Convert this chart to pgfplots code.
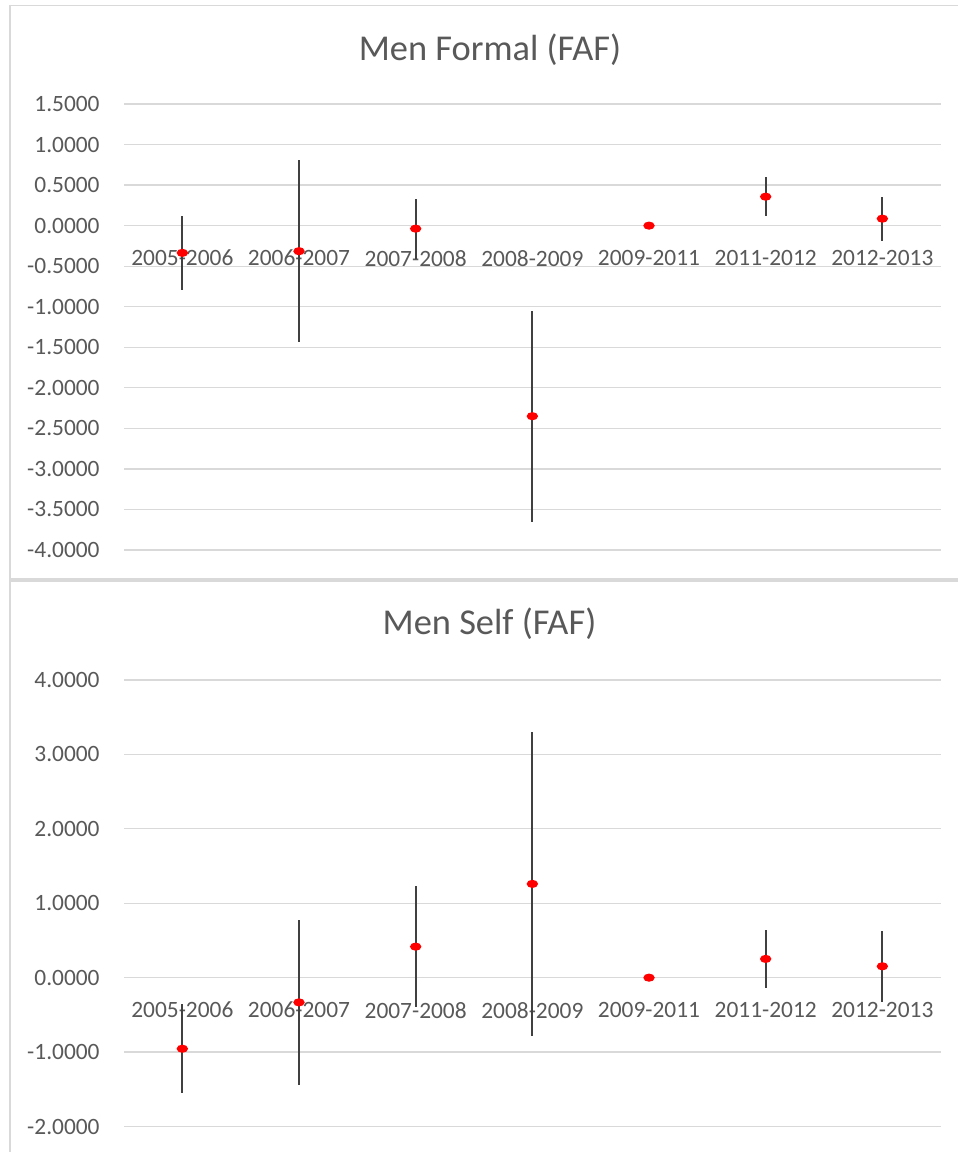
\documentclass[border=0pt]{standalone}
\usepackage{pgfplots}
\usepackage{pgfplotstable}
\pgfplotsset{compat=1.18}
\usepackage{fontspec}
\setmainfont{Carlito}
\definecolor{txt}{HTML}{595959}
\definecolor{gridc}{HTML}{D9D9D9}
\definecolor{barc}{HTML}{404040}
\pgfplotstableread{
x y e
0 -0.336 0.455
1 -0.315 1.12
2 -0.037 0.37
3 -2.350 1.30
4 0.000 0
5 0.357 0.24
6 0.086 0.27
}\formal
\pgfplotstableread{
x y e
0 -0.955 0.595
1 -0.332 1.11
2 0.417 0.81
3 1.260 2.045
4 0.000 0
5 0.252 0.39
6 0.153 0.475
}\self
\pgfplotsset{
  faf/.style={
    scale only axis, width=408.35pt,
    xmin=-0.5, xmax=6.5,
    axis x line=middle, axis y line=left,
    axis line style={draw=none},
    hide obscured x ticks=false, hide obscured y ticks=false,
    major tick length=0pt,
    xtick={0,1,2,3,4,5,6},
    xticklabels={2005-2006,2006-2007,2007-2008,2008-2009,2009-2011,2011-2012,2012-2013},
    ymajorgrids, grid style={gridc, line width=0.65pt},
    tick label style={font=\fontsize{11.7}{13}\selectfont, text=txt},
    xticklabel style={anchor=north, inner sep=0pt, yshift=-12pt},
    yticklabel style={anchor=east, inner sep=0pt, xshift=-12pt},
    /pgf/number format/fixed, /pgf/number format/fixed zerofill,
    /pgf/number format/precision=4, /pgf/number format/assume math mode=true,
  },
  over/.style={scale only axis, width=408.35pt, xmin=-0.5, xmax=6.5, hide axis, clip=false},
  bars/.style={draw=none, mark=none,
    error bars/.cd, y dir=both, y explicit, error mark=none,
    error bar style={barc, line width=0.9pt}},
  pts/.style={red, only marks, mark=*, mark size=2.3pt,
    mark options={solid, fill=red, draw=red, line width=0.6pt, xscale=1.1, yscale=0.75}},
}
\begin{document}
\begin{tikzpicture}[x=0.5pt,y=0.5pt]
\useasboundingbox (0,0) rectangle (958,1152);
\fill[white] (0,0) rectangle (958,1152);
\draw[gridc, line width=0.65pt] (10,-10) -- (10,1146.3) -- (970,1146.3);
\draw[gridc, line width=1.7pt] (10,572) -- (970,572);
\node[anchor=base, text=txt, font=\fontsize{18.2}{21}\selectfont] at (490,1091.3) {Men Formal (FAF)};
\node[anchor=base, text=txt, font=\fontsize{18.2}{21}\selectfont] at (489.5,517) {Men Self (FAF)};

\begin{axis}[faf, at={(62pt,301pt)}, anchor=south west, height=223pt,
  ymin=-4, ymax=1.5, ytick={-4,-3.5,-3,-2.5,-2,-1.5,-1,-0.5,0,0.5,1,1.5}]
\addplot[bars] table[x=x, y=y, y error=e] {\formal};
\end{axis}
\begin{axis}[over, at={(62pt,301pt)}, anchor=south west, height=223pt,
  ymin=-4, ymax=1.5]
\addplot[pts] table[x=x, y=y] {\formal};
\end{axis}

\begin{axis}[faf, at={(62pt,12.75pt)}, anchor=south west, height=223.25pt,
  ymin=-2, ymax=4, ytick={-2,-1,0,1,2,3,4}]
\addplot[bars] table[x=x, y=y, y error=e] {\self};
\end{axis}
\begin{axis}[over, at={(62pt,12.75pt)}, anchor=south west, height=223.25pt,
  ymin=-2, ymax=4]
\addplot[pts] table[x=x, y=y] {\self};
\end{axis}
\end{tikzpicture}
\end{document}
